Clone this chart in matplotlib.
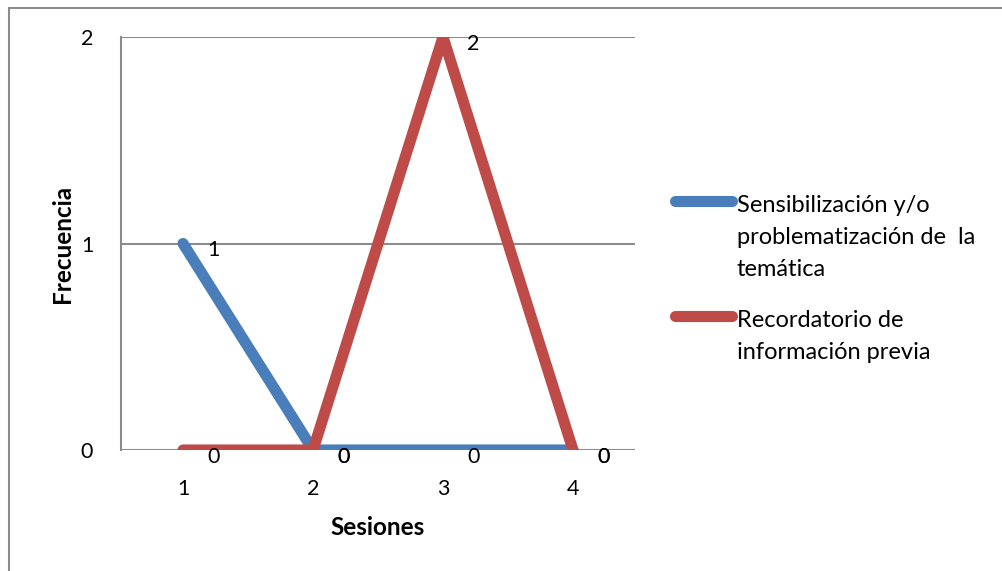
import matplotlib.pyplot as plt
from matplotlib.lines import Line2D
from matplotlib.patches import Rectangle

sesiones = [1, 2, 3, 4]
sensibilizacion = [1, 0, 0, 0]
recordatorio = [0, 0, 2, 0]
etiquetas = ["Sensibilización y/o\nproblematización de  la\ntemática",
             "Recordatorio de\ninformación previa"]
colores = ["#4A7EBB", "#BE4B48"]

plt.rcParams['font.family'] = ['Lato', 'DejaVu Sans']
W, H = 1003, 571
fig = plt.figure(figsize=(W / 100, H / 100), dpi=100)
ax = fig.add_axes([121 / W, (H - 450) / H, (635 - 121) / W, (450 - 37) / H])

series = [sensibilizacion, recordatorio]
for vals, col in zip(series, colores):
    ax.plot(sesiones, vals, color=col, lw=8, solid_capstyle='round',
            solid_joinstyle='miter', zorder=3)
    for x, y in zip(sesiones, vals):
        ax.annotate(str(y), (x, y), xytext=(22, -5), textcoords='offset points',
                    ha='center', va='center', fontsize=15.5, zorder=4)

ax.set_xlim(0.523, 4.477)
ax.set_ylim(0, 2)
ax.set_xticks(sesiones)
ax.set_yticks([0, 1, 2])
ax.tick_params(length=0, labelsize=15.5, colors='black')
ax.tick_params(axis='x', pad=21)
ax.tick_params(axis='y', pad=20)
ax.grid(axis='y', color='#8C8C8C', lw=1.5)
ax.set_axisbelow(True)
for s in ['top', 'right', 'bottom']:
    ax.spines[s].set_visible(False)
ax.spines['left'].set_color('#8C8C8C')
ax.spines['left'].set_linewidth(1.5)

ax.set_xlabel("Sesiones", fontsize=17.5, fontweight='bold', labelpad=12)
ax.set_ylabel("Frecuencia", fontsize=17.5, fontweight='bold', labelpad=5)

# leyenda a la derecha, con la línea alineada a la primera fila del texto
ly = [(H - 201) / H, (H - 316) / H]
for y0, col, txt in zip(ly, colores, etiquetas):
    fig.add_artist(Line2D([675 / W, 732 / W], [y0, y0], color=col, lw=8,
                          solid_capstyle='round'))
    fig.text(737 / W, y0 + 6 / H, txt, fontsize=17, va='top', ha='left',
             linespacing=1.64)

fig.add_artist(Rectangle((9.5 / W, -0.1), 1.2, (H - 8) / H + 0.1, fill=False,
                         edgecolor='#8C8C8C', lw=1.5, transform=fig.transFigure))

fig.savefig("out.png", dpi=100, facecolor='white')
